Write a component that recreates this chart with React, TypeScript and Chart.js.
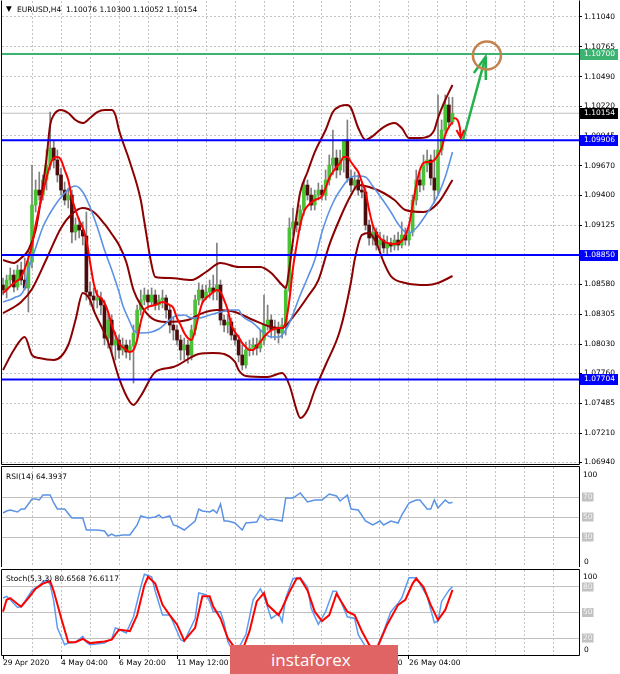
import React, { useEffect, useRef } from "react";
import { Chart, registerables } from "chart.js";

Chart.register(...registerables);

// ---------------- text ----------------
const symbolHeader = "EURUSD,H4  1.10076 1.10300 1.10052 1.10154";
const rsiHeader = "RSI(14) 64.3937";
const stochHeader = "Stoch(5,3,3) 80.6568 76.6117";
const timeLabels = ["29 Apr 2020", "4 May 04:00", "6 May 20:00", "11 May 12:00", "14 May 04:00", "18 May 20:00", "21 May 12:00", "26 May 04:00"];
const priceTicks = [1.1104, 1.10765, 1.1049, 1.1022, 1.09945, 1.0967, 1.094, 1.09125, 1.0885, 1.0858, 1.08305, 1.0803, 1.0776, 1.07485, 1.0721, 1.0694];
const rsiTicks = [30, 50, 70];
const stochTicks = [20, 50, 80];

// ---------------- candles (H4) ----------------
const openP = [1.08573,1.08527,1.08619,1.08665,1.08555,1.08711,1.08619,1.08546,1.08785,1.09309,1.09447,1.09401,1.0954,1.09678,1.09834,1.09724,1.09586,1.09447,1.09355,1.09401,1.09061,1.09125,1.09079,1.09024,1.08509,1.08472,1.08435,1.08454,1.08389,1.08085,1.08251,1.08021,1.08067,1.07975,1.08021,1.07957,1.08012,1.08131,1.08343,1.08435,1.08481,1.08417,1.08481,1.08389,1.08435,1.08454,1.08343,1.08205,1.08159,1.08067,1.07975,1.08021,1.07929,1.08159,1.08435,1.08527,1.08454,1.08509,1.08546,1.08509,1.08573,1.08251,1.08205,1.08233,1.08113,1.08067,1.07929,1.07837,1.07975,1.07993,1.08021,1.07993,1.08067,1.08205,1.08251,1.08159,1.08177,1.08131,1.08205,1.08527,1.09098,1.09153,1.09125,1.09263,1.09493,1.09401,1.09309,1.09401,1.09447,1.09401,1.0954,1.09678,1.09742,1.09632,1.09724,1.09908,1.09558,1.09493,1.0954,1.09447,1.09429,1.09125,1.09006,1.09061,1.08941,1.08987,1.08914,1.0896,1.08932,1.08987,1.08941,1.09033,1.08987,1.09061,1.09355,1.0954,1.09493,1.09678,1.09724,1.09558,1.09447,1.09816,1.1,1.1023,1.10076];
const highP = [1.08638,1.08665,1.0873,1.08711,1.08757,1.08785,1.08822,1.08895,1.09678,1.0954,1.09613,1.09586,1.09816,1.10165,1.09908,1.09816,1.0965,1.09521,1.09466,1.09447,1.0919,1.0919,1.09153,1.09245,1.08601,1.08546,1.08527,1.08509,1.08435,1.08325,1.08297,1.08141,1.08113,1.08085,1.08067,1.08067,1.08205,1.08389,1.08527,1.08546,1.08527,1.08546,1.08527,1.08481,1.08527,1.08481,1.08389,1.08269,1.08205,1.08113,1.08085,1.08067,1.08205,1.08481,1.08592,1.08573,1.08573,1.08619,1.08665,1.0896,1.08619,1.08297,1.08297,1.08269,1.08177,1.08113,1.08021,1.08049,1.08067,1.08085,1.08085,1.08159,1.08481,1.08389,1.08297,1.08251,1.08233,1.08269,1.08573,1.0919,1.09282,1.09217,1.09309,1.0954,1.0954,1.09466,1.09447,1.09512,1.09493,1.09632,1.0977,1.1,1.09816,1.09816,1.09908,1.10092,1.09632,1.09613,1.09586,1.09521,1.09466,1.09171,1.09125,1.09098,1.09061,1.09033,1.09024,1.09006,1.09033,1.09061,1.09153,1.09098,1.09125,1.09401,1.09632,1.09613,1.0977,1.09816,1.0977,1.09816,1.10322,1.10092,1.10322,1.10303,1.103];
const lowP = [1.08481,1.08454,1.08573,1.08509,1.08527,1.08573,1.08527,1.08325,1.0873,1.09245,1.09355,1.09355,1.09447,1.09632,1.0965,1.09521,1.09401,1.09309,1.09282,1.0896,1.08987,1.09006,1.08941,1.08435,1.08389,1.08343,1.08362,1.08297,1.08021,1.07993,1.07929,1.07883,1.07901,1.07929,1.07901,1.07883,1.07671,1.08067,1.08297,1.08389,1.08343,1.0838,1.08343,1.08343,1.08362,1.08269,1.08131,1.08067,1.08021,1.07883,1.07883,1.07855,1.07883,1.08113,1.08389,1.08408,1.08435,1.08454,1.08435,1.08435,1.08205,1.08141,1.08131,1.08067,1.08021,1.07865,1.07791,1.07809,1.0792,1.07929,1.07929,1.07957,1.08021,1.08159,1.08085,1.08067,1.08039,1.08085,1.08113,1.08509,1.09033,1.09061,1.09079,1.09217,1.09355,1.09263,1.09263,1.09355,1.09355,1.09355,1.09493,1.09586,1.09558,1.09586,1.09613,1.09521,1.09429,1.09447,1.09401,1.09374,1.09079,1.08941,1.08941,1.08895,1.08895,1.08868,1.08849,1.08877,1.08895,1.08895,1.08914,1.08941,1.08941,1.09024,1.09309,1.09429,1.09447,1.09613,1.09493,1.09328,1.09401,1.0977,1.09954,1.10018,1.10052];
const closeP = [1.08527,1.08619,1.08665,1.08555,1.08711,1.08619,1.08546,1.08785,1.09309,1.09447,1.09401,1.0954,1.09678,1.09834,1.09724,1.09586,1.09447,1.09355,1.09401,1.09061,1.09125,1.09079,1.09024,1.08509,1.08472,1.08435,1.08454,1.08389,1.08085,1.08251,1.08021,1.08067,1.07975,1.08021,1.07957,1.08012,1.08131,1.08343,1.08435,1.08481,1.08417,1.08481,1.08389,1.08435,1.08454,1.08343,1.08205,1.08159,1.08067,1.07975,1.08021,1.07929,1.08159,1.08435,1.08527,1.08454,1.08509,1.08546,1.08509,1.08573,1.08251,1.08205,1.08233,1.08113,1.08067,1.07929,1.07837,1.07975,1.07993,1.08021,1.07993,1.08067,1.08205,1.08251,1.08159,1.08177,1.08131,1.08205,1.08527,1.09098,1.09153,1.09125,1.09263,1.09493,1.09401,1.09309,1.09401,1.09447,1.09401,1.0954,1.09678,1.09742,1.09632,1.09724,1.09908,1.09558,1.09493,1.0954,1.09447,1.09429,1.09125,1.09006,1.09061,1.08941,1.08987,1.08914,1.0896,1.08932,1.08987,1.08941,1.09033,1.08987,1.09061,1.09355,1.0954,1.09493,1.09678,1.09724,1.09558,1.09447,1.09816,1.1,1.1023,1.10073,1.10154];

// ---------------- indicators: [bar index, value] ----------------
const fastMA = [[0,1.08499],[3,1.08592],[5,1.08647],[7,1.08822],[8,1.08941],[9,1.09125],[10,1.09282],[12,1.09558],[13,1.09678],[14,1.09742],[15,1.09751],[16,1.09724],[17,1.09632],[18,1.0954],[19,1.09374],[20,1.09263],[21,1.09171],[22,1.09098],[23,1.08987],[24,1.08785],[25,1.08592],[26,1.08481],[27,1.08454],[28,1.08408],[29,1.08325],[30,1.08205],[31,1.08113],[32,1.08039],[33,1.08002],[34,1.07975],[35,1.07957],[36,1.07975],[37,1.08067],[38,1.08233],[39,1.08343],[40,1.08371],[42,1.08389],[44,1.08417],[46,1.08389],[47,1.08362],[48,1.08269],[49,1.08205],[50,1.08131],[51,1.08085],[52,1.08067],[53,1.08159],[54,1.08297],[55,1.08408],[56,1.08454],[57,1.08481],[58,1.08509],[59,1.08527],[60,1.08509],[61,1.08435],[62,1.08343],[63,1.08205],[64,1.08141],[65,1.08095],[66,1.08039],[67,1.08002],[68,1.07975],[69,1.07975],[70,1.08012],[71,1.08049],[72,1.08095],[73,1.08131],[74,1.08159],[75,1.08169],[76,1.08177],[77,1.08177],[78,1.08233],[79,1.08435],[80,1.0873],[81,1.08941],[82,1.09125],[83,1.09245],[84,1.093],[86,1.09355],[88,1.09392],[89,1.09466],[90,1.09558],[91,1.09613],[92,1.09659],[93,1.09696],[94,1.09751],[95,1.09751],[96,1.09705],[97,1.09659],[98,1.09613],[99,1.09521],[100,1.09429],[101,1.09263],[102,1.09125],[103,1.09052],[104,1.09006],[105,1.08978],[106,1.0896],[108,1.08951],[110,1.08978],[111,1.09033],[112,1.09125],[113,1.09309],[114,1.09493],[115,1.09632],[116,1.09696],[117,1.09705],[118,1.09705],[119,1.09724],[120,1.0977],[121,1.09834],[122,1.09954],[123,1.10027],[124,1.10073]];
const slowMA = [[0,1.08417],[3,1.08454],[6,1.08546],[7,1.08711],[9,1.08914],[11,1.09107],[13,1.09236],[15,1.09337],[17,1.0942],[19,1.09475],[20,1.09484],[22,1.09429],[24,1.09291],[26,1.09107],[28,1.08895],[30,1.08711],[32,1.08509],[33,1.08389],[35,1.08233],[36,1.08159],[38,1.08131],[41,1.08141],[43,1.08168],[45,1.08223],[47,1.08279],[50,1.08297],[52,1.08269],[54,1.08269],[57,1.08297],[60,1.08325],[63,1.08343],[65,1.08343],[66,1.08288],[69,1.08223],[72,1.08131],[74,1.08095],[76,1.08095],[77,1.08113],[79,1.08223],[82,1.08481],[84,1.08638],[86,1.08803],[88,1.09061],[91,1.09328],[94,1.09493],[96,1.09567],[98,1.09576],[100,1.09567],[102,1.09484],[104,1.09392],[107,1.09245],[109,1.09135],[111,1.09061],[112,1.09052],[114,1.09098],[117,1.09236],[120,1.09401],[122,1.09567],[124,1.09797]];
const bandMid = [[0,1.08315],[5,1.08417],[8,1.08537],[12,1.08813],[16,1.09098],[19,1.09227],[22,1.09282],[25,1.09245],[28,1.09135],[30,1.09043],[32,1.08941],[34,1.08785],[36,1.08527],[38,1.08389],[41,1.08269],[45,1.08233],[51,1.08251],[55,1.08315],[59,1.08343],[64,1.08325],[69,1.08251],[74,1.08187],[77,1.08177],[80,1.08279],[84,1.08463],[87,1.08619],[90,1.08941],[93,1.0919],[96,1.09401],[98,1.09493],[101,1.09475],[105,1.0942],[108,1.09355],[111,1.09263],[116,1.09245],[120,1.09328],[124,1.0954]];
const bandUpper = [[0,1.08803],[3,1.08776],[5,1.08822],[7,1.08895],[9,1.09079],[10,1.09263],[11,1.09493],[12,1.09742],[13,1.10046],[14,1.10138],[16,1.10184],[18,1.10156],[20,1.10092],[22,1.10064],[24,1.1011],[26,1.10165],[28,1.10184],[30,1.10184],[31,1.10138],[32,1.1],[35,1.09705],[38,1.09355],[39,1.09153],[41,1.08757],[42,1.08647],[46,1.08638],[52,1.08619],[56,1.08693],[60,1.08776],[65,1.08739],[71,1.08739],[74,1.08684],[77,1.08573],[78,1.08546],[79,1.0873],[80,1.08987],[81,1.09217],[82,1.09429],[84,1.09613],[86,1.09797],[89,1.1],[91,1.10165],[93,1.1022],[95,1.1023],[96,1.10202],[98,1.10018],[100,1.09908],[102,1.09944],[105,1.10027],[108,1.10064],[110,1.10018],[112,1.09926],[115,1.09926],[118,1.09954],[119,1.1],[120,1.1011],[122,1.10276],[124,1.10414]];
const bandLower = [[0,1.07791],[3,1.07975],[6,1.08095],[8,1.07929],[10,1.07901],[14,1.07883],[18,1.08021],[20,1.08251],[22,1.08499],[24,1.08435],[25,1.08343],[29,1.08049],[32,1.07717],[35,1.07496],[36,1.07469],[38,1.07552],[42,1.07772],[47,1.07818],[54,1.07938],[58,1.07948],[64,1.07865],[65,1.07791],[67,1.07736],[73,1.07727],[77,1.07763],[79,1.07653],[81,1.07423],[82,1.07349],[84,1.07423],[86,1.07607],[89,1.07837],[93,1.08159],[96,1.08601],[97,1.08803],[99,1.09033],[101,1.09052],[103,1.0896],[105,1.08785],[107,1.08656],[111,1.08592],[117,1.08573],[120,1.08592],[124,1.08656]];

const rsi = [[0,54],[1,56],[2,57],[4,55],[5,58],[6,58],[8,68],[9,68],[10,67],[11,72],[13,72],[14,64],[15,58],[17,58],[19,49],[22,49],[23,37],[26,37],[28,36],[29,31],[30,33],[31,31],[33,32],[35,32],[37,42],[38,51],[40,49],[42,50],[43,52],[44,49],[46,51],[47,42],[48,41],[50,37],[53,46],[54,58],[55,56],[57,55],[58,57],[59,54],[60,63],[61,46],[62,46],[64,44],[66,37],[67,44],[70,45],[71,52],[73,47],[74,48],[77,46],[78,69],[80,69],[82,74],[84,65],[86,67],[88,67],[90,73],[92,71],[93,66],[95,72],[96,58],[98,57],[100,46],[102,42],[104,46],[105,42],[107,46],[109,44],[110,52],[112,64],[114,67],[115,67],[117,58],[118,58],[119,67],[120,59],[122,67],[123,64],[124,64.3937]];
const stochMain = [[0,67],[1,69],[2,65],[4,56],[5,57],[6,63],[8,76],[10,82],[11,86],[12,88],[13,83],[14,63],[15,32],[17,12],[18,14],[20,15],[22,22],[23,15],[24,12],[28,14],[30,19],[31,32],[33,28],[34,26],[36,45],[38,80],[39,95],[41,92],[42,75],[44,47],[46,47],[47,38],[49,18],[50,16],[53,43],[54,73],[56,71],[57,63],[58,51],[60,51],[61,38],[62,16],[63,8],[65,8],[67,24],[69,65],[71,78],[72,69],[74,43],[76,49],[77,39],[78,67],[80,90],[82,91],[84,80],[85,55],[87,36],[89,51],[91,75],[92,75],[94,55],[95,45],[97,43],[98,24],[100,10],[103,8],[105,28],[107,51],[109,61],[110,67],[112,91],[114,91],[115,84],[117,69],[119,38],[120,40],[121,63],[123,76],[124,80.6568]];
const stochSignal = [[0,51],[1,65],[2,67],[4,60],[5,57],[7,67],[9,78],[11,84],[13,87],[14,75],[16,44],[18,15],[20,15],[22,19],[24,14],[28,16],[30,18],[32,30],[35,28],[37,47],[39,82],[40,92],[42,84],[44,59],[46,47],[48,36],[50,17],[53,32],[55,69],[57,69],[58,57],[60,43],[62,20],[64,8],[66,5],[68,28],[70,63],[72,73],[73,59],[76,47],[77,55],[79,74],[81,90],[82,90],[84,76],[86,51],[88,40],[90,47],[92,72],[93,65],[95,51],[97,47],[99,28],[101,12],[103,6],[104,16],[106,36],[109,59],[111,65],[113,84],[114,90],[116,80],[118,59],[120,41],[122,53],[124,76.6117]];

// ---------------- levels & annotations ----------------
const levelValues = [1.107, 1.09906, 1.0885, 1.07704];
const levelColors = ["#3cb371", "#0000ff", "#0000ff", "#0000ff"];
const lastPrice = 1.10154;
const redArrowShaft = [[124.3,1.1011],[125.3,1.10095],[126.0,1.10027],[126.3,1.09926]];
const redArrowHead = [[125.1,1.1],[126.3,1.09926],[127.2,1.1]];
const greenArrowShaft = [[126.9,1.09908],[133.1,1.10671]];
const greenArrowHead = [[129.9,1.10524],[133.1,1.10671],[133.2,1.1046]];
const targetCircle = [[133.5,1.10685]];

// ---------------- view ----------------
const X_MIN = -0.28;
const X_MAX = 158.9;
const PRICE_MIN = 1.06926;
const PRICE_MAX = 1.11187;
const GRID_STEP = 8;
const LABEL_STEP = 16;

const FONT = '"DejaVu Sans", Verdana, sans-serif';
const FS = 7.5;
const GRID = "#c4c4c4";
const WICK = "#808080";
const BULL = "#49c234";
const BULL_EDGE = "#2b7a1f";
const BEAR = "#4a0c0c";

const pts = (a: number[][]) => a.map(([x, y]) => ({ x, y }));

const noPad = (s: any) => {
  s.paddingTop = 0;
  s.paddingBottom = 0;
  s.paddingLeft = 0;
  s.paddingRight = 0;
};

const framePlugin = (top: boolean) => ({
  id: "frame",
  afterDraw(chart: any) {
    const { ctx, chartArea: a } = chart;
    const l = Math.round(a.left) - 0.5, r = Math.round(a.right) + 0.5;
    const t = Math.round(a.top) - 0.5, b = Math.round(a.bottom) + 0.5;
    ctx.save();
    ctx.strokeStyle = "#000";
    ctx.lineWidth = 1;
    ctx.beginPath();
    if (top) { ctx.moveTo(l, t); ctx.lineTo(r, t); }
    ctx.moveTo(l, t); ctx.lineTo(l, b); ctx.lineTo(r, b); ctx.lineTo(r, t);
    ctx.stroke();
    ctx.restore();
  },
});

const priceBoxes = {
  id: "priceBoxes",
  afterDraw(chart: any) {
    const { ctx, chartArea: a, scales } = chart;
    const items = [
      ...levelValues.map((v, i) => ({ v, c: levelColors[i] })),
      { v: lastPrice, c: "#000" },
    ];
    ctx.save();
    ctx.font = `${FS}px ${FONT}`;
    ctx.textBaseline = "middle";
    items.forEach(({ v, c }) => {
      const y = Math.round(scales.y.getPixelForValue(v));
      ctx.fillStyle = c;
      ctx.fillRect(a.right + 1, y - 5, 38, 11);
      ctx.fillStyle = "#fff";
      ctx.fillText(v.toFixed(5), a.right + 5, y + 0.5);
    });
    ctx.restore();
  },
};

function xScale(withLabels: boolean) {
  return {
    type: "linear",
    min: X_MIN,
    max: X_MAX,
    offset: false,
    afterBuildTicks: (s: any) => {
      const t: any[] = [];
      for (let v = withLabels ? 0 : GRID_STEP; v <= X_MAX; v += GRID_STEP) t.push({ value: v });
      s.ticks = t;
    },
    afterFit: (s: any) => { s.height = withLabels ? 19 : 0; noPad(s); },
    grid: {
      offset: false,
      color: (c: any) => (c.tick && c.tick.value === 0 ? "rgba(0,0,0,0)" : GRID),
      drawTicks: withLabels,
      tickLength: 4,
      tickColor: (c: any) => {
        const v = c.tick ? c.tick.value : -1;
        return v % LABEL_STEP === 0 && v / LABEL_STEP < timeLabels.length ? "#000" : "rgba(0,0,0,0)";
      },
      tickBorderDash: [],
    },
    border: { display: false, dash: [2, 2] },
    ticks: {
      display: withLabels,
      autoSkip: false,
      maxRotation: 0,
      minRotation: 0,
      align: "start",
      padding: 0,
      color: "#000",
      font: { family: FONT, size: FS },
      callback: (v: any) => {
        const n = Number(v);
        return n % LABEL_STEP === 0 && n / LABEL_STEP < timeLabels.length ? timeLabels[n / LABEL_STEP] : "";
      },
    },
  };
}

function oscScale(ticks: number[]) {
  return {
    position: "right",
    min: 0,
    max: 100,
    afterBuildTicks: (s: any) => { s.ticks = ticks.map((v) => ({ value: v })); },
    afterFit: (s: any) => { s.width = 41; noPad(s); },
    grid: { color: "#c0c0c0", drawTicks: false },
    border: { display: false },
    ticks: {
      padding: 4,
      color: "#f4f4f4",
      font: { family: FONT, size: FS },
      showLabelBackdrop: true,
      backdropColor: "#c2c2c2",
      backdropPadding: { top: 0, bottom: 0, left: 1, right: 1 },
    },
  };
}

const baseOptions = {
  responsive: false,
  animation: false as const,
  devicePixelRatio: 1,
  events: [] as any[],
  plugins: { legend: { display: false }, tooltip: { enabled: false } },
};

const line = (data: number[][], color: string, width: number, order: number, extra: any = {}) => ({
  type: "line",
  data: pts(data),
  borderColor: color,
  borderWidth: width,
  pointRadius: 0,
  fill: false,
  order,
  cubicInterpolationMode: "monotone",
  ...extra,
});

function mainConfig(): any {
  const idx = closeP.map((_, i) => i);
  const bull = idx.map((i) => closeP[i] >= openP[i]);
  return {
    type: "bar",
    data: {
      datasets: [
        {
          type: "bar",
          data: idx.map((i) => ({ x: i, y: [lowP[i], highP[i]] })),
          backgroundColor: WICK,
          barThickness: 1,
          grouped: false,
          order: 20,
        },
        {
          type: "bar",
          data: idx.map((i) => ({ x: i, y: [openP[i], closeP[i]] })),
          backgroundColor: bull.map((b) => (b ? BULL : BEAR)),
          borderColor: bull.map((b) => (b ? BULL_EDGE : BEAR)),
          borderWidth: 0,
          barThickness: 3,
          minBarLength: 1,
          grouped: false,
          order: 19,
        },
        line([[X_MIN, lastPrice], [X_MAX, lastPrice]], "#c0c0c0", 1, 21, { cubicInterpolationMode: "default" }),
        line(bandUpper, "#8b0000", 2, 8),
        line(bandLower, "#8b0000", 2, 8),
        line(bandMid, "#8b0000", 2, 7),
        line(slowMA, "#5b92e5", 1.6, 6),
        line(fastMA, "#ff0000", 2, 5),
        ...levelValues.map((v, i) =>
          line([[X_MIN, v], [X_MAX, v]], levelColors[i], 2, 2, { cubicInterpolationMode: "default" })
        ),
        line(redArrowShaft, "#ff0000", 2, 1),
        line(redArrowHead, "#ff0000", 2, 1, { cubicInterpolationMode: "default" }),
        line(greenArrowShaft, "#22b24c", 2.5, 1, { cubicInterpolationMode: "default" }),
        line(greenArrowHead, "#22b24c", 2.5, 1, { cubicInterpolationMode: "default" }),
        {
          type: "line",
          data: pts(targetCircle),
          showLine: false,
          pointRadius: 14,
          pointStyle: "circle",
          pointBorderColor: "#c4824e",
          pointBackgroundColor: "rgba(0,0,0,0)",
          pointBorderWidth: 2.5,
          order: 0,
        },
      ],
    },
    options: {
      ...baseOptions,
      layout: { autoPadding: false, padding: { left: 2, top: 1, bottom: 2, right: 0 } },
      scales: {
        x: xScale(false),
        y: {
          position: "right",
          min: PRICE_MIN,
          max: PRICE_MAX,
          afterBuildTicks: (s: any) => { s.ticks = priceTicks.map((v) => ({ value: v })); },
          afterFit: (s: any) => { s.width = 41; noPad(s); },
          grid: { color: GRID, drawTicks: true, tickLength: 3, tickColor: "#000", tickBorderDash: [] },
          border: { display: false, dash: [2, 2] },
          ticks: {
            padding: 2,
            color: "#000",
            font: { family: FONT, size: FS },
            callback: (v: any) => Number(v).toFixed(5),
          },
        },
      },
    },
    plugins: [framePlugin(false), priceBoxes],
  };
}

function rsiConfig(): any {
  return {
    type: "line",
    data: { datasets: [line(rsi, "#5b92e5", 1.5, 1, { cubicInterpolationMode: "default", tension: 0 })] },
    options: {
      ...baseOptions,
      layout: { autoPadding: false, padding: { left: 2, top: 1, bottom: 0, right: 0 } },
      scales: { x: xScale(false), y: oscScale(rsiTicks) },
    },
    plugins: [framePlugin(true)],
  };
}

function stochConfig(): any {
  return {
    type: "line",
    data: {
      datasets: [
        line(stochMain, "#5b9cf0", 1.5, 2, { cubicInterpolationMode: "default", tension: 0 }),
        line(stochSignal, "#ff0000", 2, 1, { cubicInterpolationMode: "default", tension: 0 }),
      ],
    },
    options: {
      ...baseOptions,
      layout: { autoPadding: false, padding: { left: 2, top: 2, bottom: 0, right: 0 } },
      scales: { x: xScale(true), y: oscScale(stochTicks) },
    },
    plugins: [framePlugin(true)],
  };
}

const txt = (left: number, top: number, s: string, extra: any = {}) => (
  <div
    style={{
      position: "absolute",
      left,
      top,
      font: `${FS}px ${FONT}`,
      lineHeight: "9px",
      whiteSpace: "pre",
      color: "#000",
      ...extra,
    }}
  >
    {s}
  </div>
);

export default function App() {
  const mainRef = useRef<HTMLCanvasElement>(null);
  const rsiRef = useRef<HTMLCanvasElement>(null);
  const stoRef = useRef<HTMLCanvasElement>(null);

  useEffect(() => {
    const charts = [
      new Chart(mainRef.current as HTMLCanvasElement, mainConfig()),
      new Chart(rsiRef.current as HTMLCanvasElement, rsiConfig()),
      new Chart(stoRef.current as HTMLCanvasElement, stochConfig()),
    ];
    return () => charts.forEach((c) => c.destroy());
  }, []);

  return (
    <div style={{ position: "absolute", left: 0, top: 0, width: 620, height: 674, background: "#fff", overflow: "hidden" }}>
      <canvas ref={mainRef} width={620} height={466} style={{ position: "absolute", left: 0, top: 0 }} />
      <canvas ref={rsiRef} width={620} height={101} style={{ position: "absolute", left: 0, top: 466 }} />
      <canvas ref={stoRef} width={620} height={106} style={{ position: "absolute", left: 0, top: 568 }} />
      {txt(6, 4, "\u25BC")}
      {txt(17, 4.5, symbolHeader)}
      {txt(6, 471.5, rsiHeader)}
      {txt(6, 573.5, stochHeader)}
      {txt(583, 469.5, "100")}
      {txt(584, 556.5, "0")}
      {txt(583, 571.5, "100")}
      {txt(584, 644.5, "0")}
      <div
        style={{
          position: "absolute",
          left: 230,
          top: 645,
          width: 168,
          height: 29,
          background: "#e06464",
          color: "#fff",
          font: '17px "Open Sans", sans-serif',
          lineHeight: "29px",
          paddingLeft: 41,
          boxSizing: "border-box",
        }}
      >
        instaforex
      </div>
    </div>
  );
}
